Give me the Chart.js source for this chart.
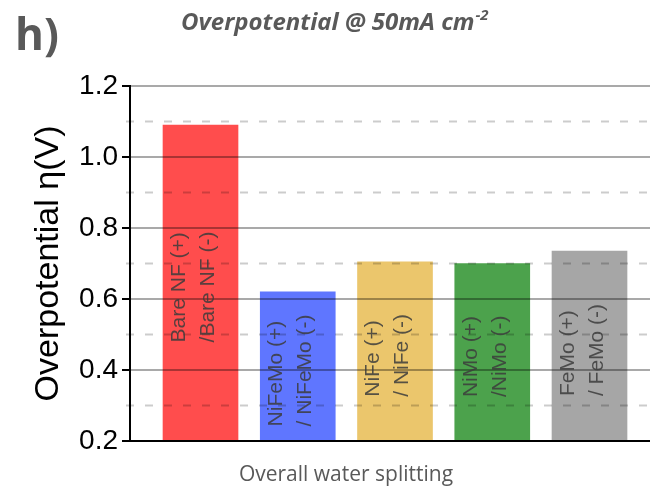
<!DOCTYPE html>
<html>
<head>
<meta charset="utf-8">
<script src="https://cdn.jsdelivr.net/npm/chart.js@4"></script>
<style>
  html, body { margin: 0; padding: 0; background: #fff; }
  #wrap { width: 650px; height: 489px; }
</style>
</head>
<body>
<div id="wrap"><canvas id="c" width="650" height="489"></canvas></div>
<script>
// Overpotential at 50 mA cm-2 for each electrode pair (V)
const categories = ['Bare NF', 'NiFeMo', 'NiFe', 'NiMo', 'FeMo'];
const overpotential = [1.09, 0.62, 0.705, 0.70, 0.735];
const barLabels = [
  ['Bare NF (+)', '/Bare NF (-)'],
  ['NiFeMo (+)', '/ NiFeMo (-)'],
  ['NiFe (+)', '/ NiFe (-)'],
  ['NiMo (+)', '/NiMo (-)'],
  ['FeMo (+)', '/ FeMo (-)']
];
const barColors = ['#FF4D4D', '#5F76FF', '#EBC66C', '#4CA24C', '#A6A6A6'];
const yTickLabels = ['0.2', '0.4', '0.6', '0.8', '1.0', '1.2'];

const SANS = '"Liberation Sans", Arial, sans-serif';
const HUMANIST = '"Open Sans", "Noto Sans", sans-serif';

const tenths = v => Math.round(v * 10);
const isMajor = v => tenths(v) % 2 === 0;

// Solid lines at the labelled ticks, dashed lines halfway between, drawn over the bars
const gridLines = {
  id: 'gridLines',
  afterDatasetsDraw(chart) {
    const { ctx, chartArea: a, scales: { y } } = chart;
    ctx.save();
    y.ticks.forEach(t => {
      const py = y.getPixelForValue(t.value);
      const tv = tenths(t.value);
      ctx.beginPath();
      if (tv === 2) {
        ctx.setLineDash([]);
        ctx.strokeStyle = '#000';
        ctx.lineWidth = 2;
        ctx.moveTo(a.left - 8, py);
        ctx.lineTo(a.right, py);
      } else if (isMajor(t.value)) {
        ctx.setLineDash([]);
        ctx.strokeStyle = 'rgba(0,0,0,0.45)';
        ctx.lineWidth = 1.5;
        ctx.moveTo(a.left, py);
        ctx.lineTo(a.right, py);
        ctx.stroke();
        ctx.beginPath();
        ctx.strokeStyle = '#000';
        ctx.lineWidth = 2;
        ctx.moveTo(a.left - 8, py);
        ctx.lineTo(a.left, py);
      } else {
        ctx.setLineDash([8, 11]);
        ctx.strokeStyle = 'rgba(0,0,0,0.2)';
        ctx.lineWidth = 2;
        ctx.moveTo(a.left - 4, py);
        ctx.lineTo(a.right, py);
      }
      ctx.stroke();
    });
    ctx.restore();
  }
};

// Two-line rotated captions inside each bar, centred on the visible part of the bar
const barText = {
  id: 'barText',
  afterDraw(chart) {
    const { ctx, chartArea: a } = chart;
    const meta = chart.getDatasetMeta(0);
    ctx.save();
    ctx.font = '21px ' + SANS;
    ctx.fillStyle = 'rgba(60,60,60,0.85)';
    ctx.textBaseline = 'middle';
    ctx.textAlign = 'left';
    meta.data.forEach((bar, i) => {
      const lines = barLabels[i];
      const w = Math.max(...lines.map(t => ctx.measureText(t).width));
      const mid = (bar.y + a.bottom) / 2 + 4;
      lines.forEach((t, k) => {
        ctx.save();
        ctx.translate(bar.x - 7 + (k - 0.5) * 29, mid + w / 2);
        ctx.rotate(-Math.PI / 2);
        ctx.fillText(t, 0, 0);
        ctx.restore();
      });
    });
    ctx.restore();
  }
};

// Panel letter, heading and category caption
const captions = {
  id: 'captions',
  afterDraw(chart) {
    const { ctx } = chart;
    ctx.save();
    ctx.fillStyle = '#595959';
    ctx.textBaseline = 'alphabetic';

    ctx.textAlign = 'left';
    ctx.font = 'bold 44px ' + HUMANIST;
    ctx.fillText('h)', 15, 50);

    ctx.font = 'italic bold 24px ' + HUMANIST;
    const head = 'Overpotential @ 50mA cm';
    ctx.fillText(head, 181, 30);
    const hw = ctx.measureText(head).width;
    ctx.font = 'italic bold 15px ' + HUMANIST;
    ctx.fillText('-2', 181 + hw + 1, 20);

    ctx.textAlign = 'center';
    ctx.font = '21px ' + HUMANIST;
    ctx.fillText('Overall water splitting', 346, 481);
    ctx.restore();
  }
};

new Chart(document.getElementById('c'), {
  type: 'bar',
  data: {
    labels: categories,
    datasets: [{
      data: overpotential.map((v, i) => ({ x: i, y: v })),
      backgroundColor: barColors,
      borderWidth: 0,
      barThickness: 75
    }]
  },
  options: {
    responsive: false,
    animation: false,
    events: [],
    layout: { padding: { top: 86, bottom: 48, left: 0, right: 0 } },
    plugins: { legend: { display: false }, tooltip: { enabled: false }, title: { display: false } },
    scales: {
      x: {
        type: 'linear',
        display: false,
        min: -0.725,
        max: 4.622,
        offset: false
      },
      y: {
        min: 0.2,
        max: 1.2,
        afterFit: s => { s.width = 130; },
        ticks: {
          stepSize: 0.1,
          autoSkip: false,
          padding: 4,
          color: '#000',
          font: { family: SANS, size: 28 },
          callback: v => isMajor(v) ? yTickLabels[tenths(v) / 2 - 1] : ''
        },
        grid: {
          drawOnChartArea: false,
          drawTicks: true,
          tickLength: 8,
          tickColor: 'rgba(0,0,0,0)'
        },
        border: { color: '#000', width: 2 },
        title: {
          display: true,
          text: 'Overpotential η(V)',
          color: '#000',
          font: { family: SANS, size: 34, lineHeight: 1 },
          padding: { top: 32, bottom: 0 }
        }
      }
    }
  },
  plugins: [gridLines, barText, captions]
});
</script>
</body>
</html>
